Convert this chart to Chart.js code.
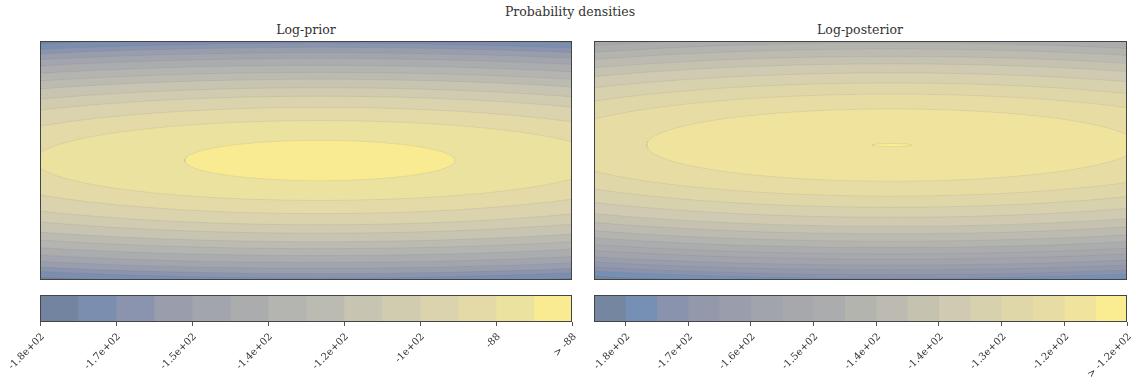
<!DOCTYPE html>
<html>
<head>
<meta charset="utf-8">
<script src="https://cdn.jsdelivr.net/npm/chart.js@4/dist/chart.umd.min.js"></script>
<style>
  body { margin: 0; background: #fff; width: 1140px; height: 381px; position: relative; overflow: hidden; }
  .box { position: absolute; }
  .txt { position: absolute; font-family: 'DejaVu Serif', serif; color: #333; white-space: nowrap; transform: translateX(-50%); }
</style>
</head>
<body>
<div class="txt" style="left:570px; top:4px; font-size:12.5px;">Probability densities</div>
<div class="txt" style="left:306px; top:22px; font-size:12.5px;">Log-prior</div>
<div class="txt" style="left:860px; top:22px; font-size:12.5px;">Log-posterior</div>

<div class="box" style="left:40px; top:41px;"><canvas id="prior" width="532" height="239"></canvas></div>
<div class="box" style="left:594px; top:41px;"><canvas id="post" width="533" height="239"></canvas></div>
<div class="box" style="left:0px; top:285px;"><canvas id="priorBar" width="580" height="96"></canvas></div>
<div class="box" style="left:554px; top:285px;"><canvas id="postBar" width="586" height="96"></canvas></div>

<script>
// contour levels, outermost first: half-width / half-height of each level curve (data units)
const priorCenter = [5.26, 2.25];
const priorRy = [2.31, 2.21, 2.13, 2.03, 1.92, 1.79, 1.66, 1.53, 1.37, 1.21, 1.00, 0.75, 0.38];
const priorRx = [17.0, 16.3, 15.7, 15.0, 14.2, 13.2, 12.2, 11.1, 9.8, 8.5, 6.9, 5.35, 2.54];
const priorBins = ['#7384a0', '#7b8eb0', '#8a94ae', '#9a9eac', '#a2a5ae', '#abacae', '#b4b4b0',
  '#bcbbb2', '#c7c4b2', '#d1cbb0', '#dad3ad', '#e3daa7', '#ece2a0', '#f9eb91'];
const priorTickAt = [0, 2, 4, 6, 8, 10, 12, 14];
const priorTickLabels = ['-1.8e+02', '-1.7e+02', '-1.5e+02', '-1.4e+02', '-1.2e+02', '-1e+02', '-88', '> -88'];

const postCenter = [5.59, 2.54];
const postRy = [2.60, 2.51, 2.44, 2.35, 2.26, 2.15, 2.05, 1.93, 1.81, 1.67, 1.53, 1.36, 1.17, 0.96, 0.68, 0.03];
const postRx = [17.7, 17.1, 16.6, 16.0, 15.4, 14.6, 13.9, 13.1, 12.3, 11.4, 10.4, 9.2, 7.9, 6.5, 4.6, 0.37];
const postBins = ['#7486a0', '#7690b5', '#8a93ae', '#9498ab', '#9a9dab', '#a1a4ac', '#a6a8ac', '#abacae',
  '#b4b4af', '#bdbab1', '#c5c3b0', '#cfcab1', '#d8d1ad', '#e0d7a9', '#e7dda4', '#efe39e', '#faec91'];
const postTickAt = [1, 3, 5, 7, 9, 11, 13, 15, 17];
const postTickLabels = ['-1.8e+02', '-1.7e+02', '-1.6e+02', '-1.5e+02', '-1.4e+02', '-1.4e+02', '-1.3e+02', '-1.2e+02', '> -1.2e+02'];

const FONT = 'DejaVu Serif';
const TXT = '#333';

function ellipse(c, rx, ry) {
    const pts = [];
    const n = 200;
    for (let i = 0; i <= n; i++) {
        const t = (2 * Math.PI * i) / n;
        pts.push({ x: c[0] + rx * Math.cos(t), y: c[1] + ry * Math.sin(t) });
    }
    return pts;
}

const frame = {
    id: 'frame',
    beforeDraw(chart, args, opts) {
        if (!opts.bg) return;
        const a = chart.chartArea, ctx = chart.ctx;
        ctx.save();
        ctx.fillStyle = opts.bg;
        ctx.fillRect(a.left, a.top, a.width, a.height);
        ctx.restore();
    },
    afterDraw(chart) {
        const a = chart.chartArea, ctx = chart.ctx;
        ctx.save();
        ctx.strokeStyle = '#444';
        ctx.lineWidth = 1;
        ctx.strokeRect(Math.round(a.left) + 0.5, Math.round(a.top) + 0.5, Math.round(a.width) - 1, Math.round(a.height) - 1);
        ctx.restore();
    },
};

function contour(id, center, rxs, rys, bins) {
    // inner levels get a lower order so they are painted on top
    const datasets = rys.map((ry, k) => ({
        data: ellipse(center, rxs[k], ry),
        order: rys.length - k,
        showLine: true,
        fill: 'shape',
        backgroundColor: bins[k + 1],
        borderColor: 'rgba(100,100,110,0.16)',
        borderWidth: 0.7,
        pointRadius: 0,
        tension: 0,
        clip: 0,
    }));
    new Chart(document.getElementById(id), {
        type: 'scatter',
        data: { datasets },
        options: {
            responsive: false,
            animation: false,
            layout: { padding: 0 },
            plugins: { legend: { display: false }, tooltip: { enabled: false }, frame: { bg: bins[0] } },
            scales: {
                x: { type: 'linear', min: 0, max: 10, display: false },
                y: { type: 'linear', min: 0, max: 4.5, display: false },
            },
        },
        plugins: [frame],
    });
}

function colorbar(id, bins, tickAt, tickLabels, leftPad, rightPad) {
    new Chart(document.getElementById(id), {
        type: 'bar',
        data: {
            labels: [''],
            datasets: bins.map((c) => ({
                data: [1],
                backgroundColor: c,
                borderWidth: 0,
                barPercentage: 1,
                categoryPercentage: 1,
            })),
        },
        options: {
            indexAxis: 'y',
            responsive: false,
            animation: false,
            layout: { padding: { left: leftPad, right: rightPad, top: 10, bottom: 0 } },
            plugins: { legend: { display: false }, tooltip: { enabled: false } },
            scales: {
                x: {
                    type: 'linear',
                    stacked: true,
                    min: 0,
                    max: bins.length,
                    afterBuildTicks: (s) => { s.ticks = tickAt.map((v) => ({ value: v })); },
                    afterFit: (s) => { s.height = 59; s.paddingLeft = 0; s.paddingRight = 0; },
                    grid: { display: true, drawOnChartArea: false, drawTicks: true, tickLength: 4, tickColor: '#555' },
                    border: { display: false },
                    ticks: {
                        autoSkip: false,
                        minRotation: 45,
                        maxRotation: 45,
                        padding: 5,
                        labelOffset: 3,
                        color: TXT,
                        font: { family: FONT, size: 10 },
                        callback: (v) => tickLabels[tickAt.indexOf(v)],
                    },
                },
                y: { stacked: true, display: false },
            },
        },
        plugins: [frame],
    });
}

contour('prior', priorCenter, priorRx, priorRy, priorBins);
contour('post', postCenter, postRx, postRy, postBins);
colorbar('priorBar', priorBins, priorTickAt, priorTickLabels, 40, 8);
colorbar('postBar', postBins, postTickAt, postTickLabels, 40, 13);
</script>
</body>
</html>
